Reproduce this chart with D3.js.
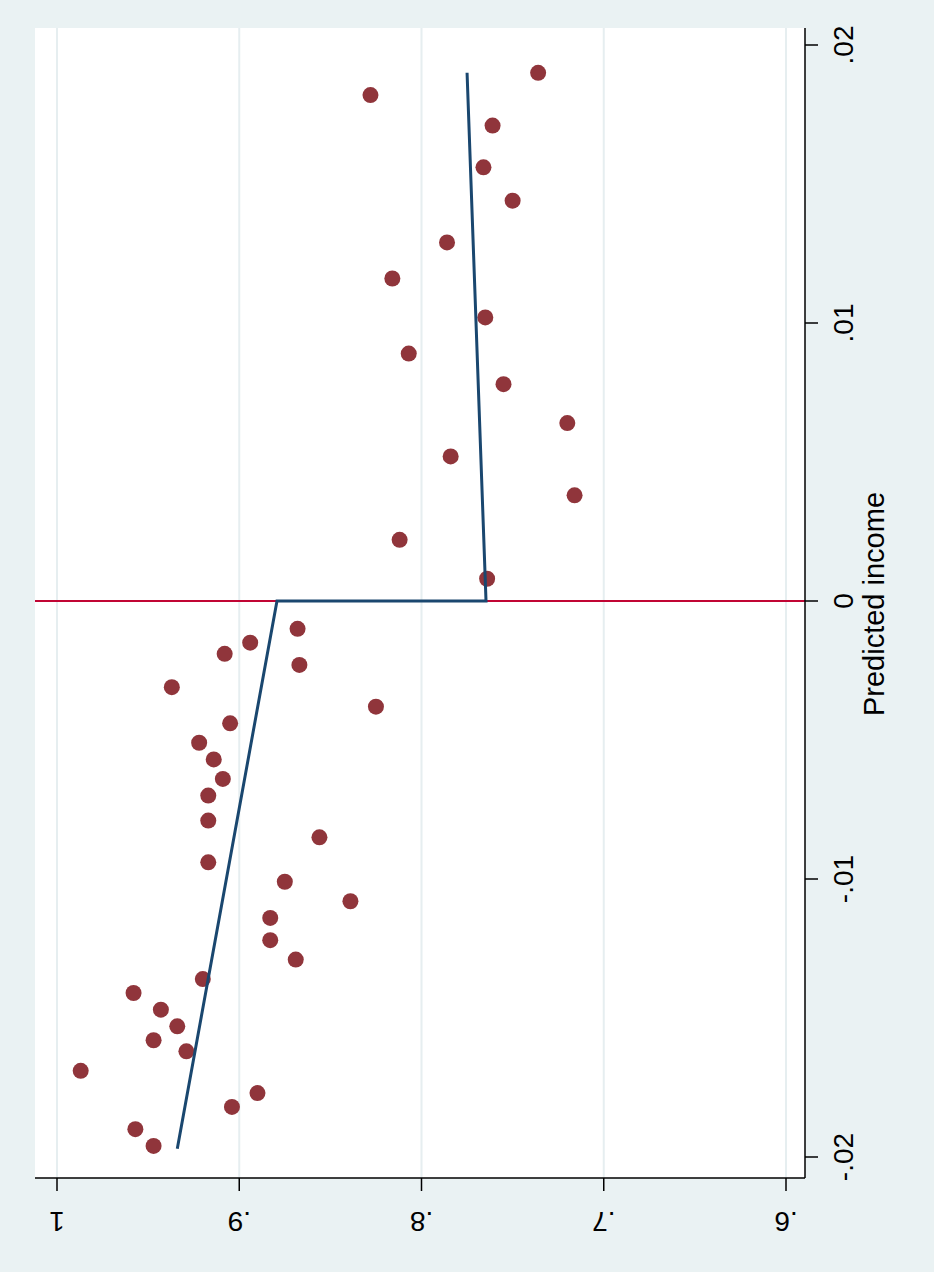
<!DOCTYPE html><html><head><meta charset="utf-8"><script src="https://cdn.jsdelivr.net/npm/d3@7"></script>
<style>body{margin:0}</style></head><body><script>
const incomeTicks=[-0.02,-0.01,0,0.01,0.02];
const incomeLabels=["-.02","-.01","0",".01",".02"];
const outTicks=[1,0.9,0.8,0.7,0.6];
const outLabels=["1",".9",".8",".7",".6"];
const leftIncome=[-0.0169,-0.0190,-0.0196,-0.0141,-0.0147,-0.0153,-0.0158,-0.0162,-0.0182,-0.0177,-0.0136,-0.0031,-0.0015,-0.0019,-0.0010,-0.0023,-0.0057,-0.0051,-0.0044,-0.0064,-0.0070,-0.0079,-0.0094,-0.0085,-0.0038,-0.0108,-0.0101,-0.0114,-0.0122,-0.0129];
const leftOut=[0.987,0.957,0.947,0.958,0.943,0.934,0.947,0.929,0.904,0.890,0.920,0.937,0.894,0.908,0.868,0.867,0.914,0.922,0.905,0.909,0.917,0.917,0.917,0.856,0.825,0.839,0.875,0.883,0.883,0.869];
const rightIncome=[0.0182,0.0190,0.0171,0.0156,0.0144,0.0129,0.0116,0.0102,0.0089,0.0078,0.0064,0.0052,0.0038,0.0022,0.0008];
const rightOut=[0.828,0.736,0.761,0.766,0.750,0.786,0.816,0.765,0.807,0.755,0.720,0.784,0.716,0.812,0.764];
const fitIncome=[-0.0197,0,0,0.019];
const fitOut=[0.934,0.8793,0.7646,0.775];

const W=934,H=1272;
const svg=d3.select("body").append("svg").attr("width",W).attr("height",H);
svg.append("rect").attr("width",W).attr("height",H).attr("fill","#eaf2f3");
const L=35,R=805,T=28,B=1178;
svg.append("rect").attr("x",L).attr("y",T).attr("width",R-L).attr("height",B-T).attr("fill","#fff");
const xs=d3.scaleLinear().domain([1,0.6]).range([57,786]);
const ys=d3.scaleLinear().domain([-0.02,0.02]).range([1157,45]);
const font="Arial, Liberation Sans, sans-serif";
svg.selectAll(".g").data(outTicks).enter().append("line").attr("x1",d=>xs(d)).attr("x2",d=>xs(d)).attr("y1",T).attr("y2",B).attr("stroke","#e6eef0").attr("stroke-width",2);
svg.append("line").attr("x1",L).attr("x2",R).attr("y1",ys(0)).attr("y2",ys(0)).attr("stroke","#c10534").attr("stroke-width",2);
const pts=leftIncome.map((v,i)=>[v,leftOut[i]]).concat(rightIncome.map((v,i)=>[v,rightOut[i]]));
svg.selectAll(".p").data(pts).enter().append("circle").attr("cx",d=>xs(d[1])).attr("cy",d=>ys(d[0])).attr("r",8).attr("fill","#90353b");
const fit=fitIncome.map((v,i)=>[v,fitOut[i]]);
svg.append("path").attr("d",d3.line().x(d=>xs(d[1])).y(d=>ys(d[0]))(fit)).attr("fill","none").attr("stroke","#1a476f").attr("stroke-width",3);
svg.append("line").attr("x1",R).attr("x2",R).attr("y1",T).attr("y2",B).attr("stroke","#000").attr("stroke-width",1.5);
svg.append("line").attr("x1",L).attr("x2",R).attr("y1",B).attr("y2",B).attr("stroke","#000").attr("stroke-width",1.5);
incomeTicks.forEach((t,i)=>{
 svg.append("line").attr("x1",R).attr("x2",R+13).attr("y1",ys(t)).attr("y2",ys(t)).attr("stroke","#000").attr("stroke-width",1.5);
 svg.append("text").attr("transform",`translate(853,${ys(t)}) rotate(-90)`).attr("text-anchor","middle").attr("font-family",font).attr("font-size",28).text(incomeLabels[i]);
});
outTicks.forEach((t,i)=>{
 svg.append("line").attr("x1",xs(t)).attr("x2",xs(t)).attr("y1",B).attr("y2",B+13).attr("stroke","#000").attr("stroke-width",1.5);
 svg.append("text").attr("transform",`translate(${xs(t)},1212) rotate(180)`).attr("text-anchor","middle").attr("font-family",font).attr("font-size",28).text(outLabels[i]);
});
svg.append("text").attr("transform",`translate(884,604) rotate(-90)`).attr("text-anchor","middle").attr("font-family",font).attr("font-size",29).text("Predicted income");
</script></body></html>
